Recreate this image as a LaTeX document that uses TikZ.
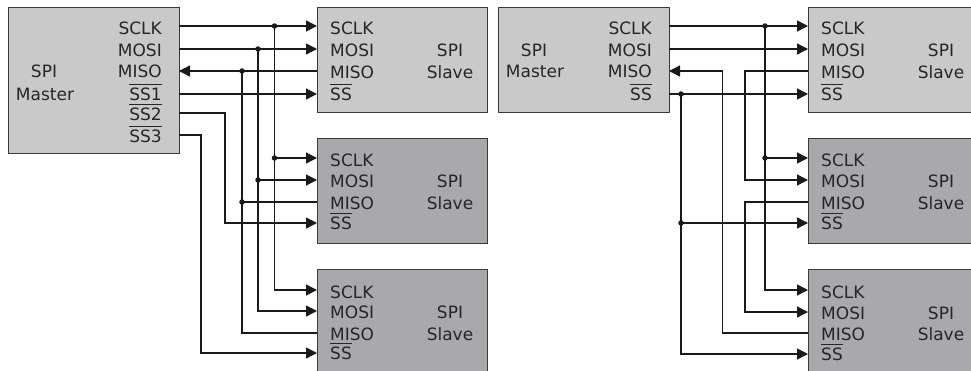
\documentclass[tikz,border=0pt]{standalone}
\usepackage{fontspec}
\setmainfont{DejaVu Sans}
\usetikzlibrary{arrows.meta}
\definecolor{boxlight}{HTML}{C9C9C9}
\definecolor{boxdark}{HTML}{A9A9AB}
\definecolor{ink}{HTML}{1A1A1A}
\definecolor{frame}{HTML}{3A3A3A}
\definecolor{txt}{HTML}{262626}
\newcommand{\ovl}[1]{\vbox{\hrule height 1.2pt\kern 2.4pt\hbox{#1}}}
\begin{document}
\begin{tikzpicture}[x=1pt,y=-1pt,
  wire/.style={draw=ink, line width=1.3pt},
  arr/.style={wire, -{Triangle[length=11pt,width=11pt]}},
  arrl/.style={wire, {Triangle[length=11pt,width=11pt]}-},
  dotj/.style={circle, fill=ink, inner sep=0pt, minimum size=5.5pt},
  lbl/.style={font=\fontsize{17}{20}\selectfont, text=txt, inner sep=0pt},
  unit/.style={draw=frame, line width=1.2pt, inner sep=0pt, anchor=north west},
  slavebox/.style={unit, minimum width=170pt, minimum height=105pt}]
\clip (0,0) rectangle (971,370);

% ---------- masters ----------
\node[unit, fill=boxlight, minimum width=171pt, minimum height=146pt] (M1) at (8,7) {};
\node[unit, fill=boxlight, minimum width=171pt, minimum height=105pt] (M2) at (498,7) {};

% ---------- slaves ----------
\foreach \nm/\x/\top/\ra/\rb/\rc/\rd/\fc in {
  A1/317/7/26/49/71/94/boxlight,
  A2/317/138/158/180/202/223/boxdark,
  A3/317/269/290/311/333/353/boxdark,
  B1/808/7/26/49/71/94/boxlight,
  B2/808/138/158/180/202/223/boxdark,
  B3/808/269/290/312/333/354/boxdark}{
  \node[slavebox, fill=\fc] (\nm) at (\x,\top) {};
  \coordinate (\nm sclk) at (\x,\ra);
  \coordinate (\nm mosi) at (\x,\rb);
  \coordinate (\nm miso) at (\x,\rc);
  \coordinate (\nm ss) at (\x,\rd);
  \node[lbl, anchor=base west] (\nm l1) at (\x+13,\ra+8) {SCLK};
  \node[lbl, anchor=base west] (\nm l2) at (\x+13,\rb+7) {MOSI};
  \node[lbl, anchor=base west] (\nm l3) at (\x+13,\rc+7) {MISO};
  \node[lbl, anchor=base west] (\nm l4) at (\x+13,\rd+6.5) {\ovl{SS}};
  \node[lbl, anchor=base] (\nm t1) at (\x+133,\rb+7) {SPI};
  \node[lbl, anchor=base] (\nm t2) at (\x+133,\rc+7) {Slave};
}

% ---------- master labels ----------
\node[lbl, anchor=base] (M1t1) at (44,77) {SPI};
\node[lbl, anchor=base] (M1t2) at (45,100) {Master};
\node[lbl, anchor=base east] (M1l1) at (162,34) {SCLK};
\node[lbl, anchor=base east] (M1l2) at (162,56) {MOSI};
\node[lbl, anchor=base east] (M1l3) at (162,77.5) {MISO};
\node[lbl, anchor=base east] (M1l4) at (162,100) {\ovl{SS1}};
\node[lbl, anchor=base east] (M1l5) at (162,120) {\ovl{SS2}};
\node[lbl, anchor=base east] (M1l6) at (162,142) {\ovl{SS3}};
\coordinate (M1sclk) at (179,26);
\coordinate (M1mosi) at (179,49);
\coordinate (M1miso) at (179,71);
\coordinate (M1ss1) at (179,94);
\coordinate (M1ss2) at (179,113);
\coordinate (M1ss3) at (179,135);

\node[lbl, anchor=base] (M2t1) at (534,56) {SPI};
\node[lbl, anchor=base] (M2t2) at (535,77) {Master};
\node[lbl, anchor=base east] (M2l1) at (652,34) {SCLK};
\node[lbl, anchor=base east] (M2l2) at (652,56) {MOSI};
\node[lbl, anchor=base east] (M2l3) at (652,77.5) {MISO};
\node[lbl, anchor=base east] (M2l4) at (652,100) {\ovl{SS}};
\coordinate (M2sclk) at (669,26);
\coordinate (M2mosi) at (669,49);
\coordinate (M2miso) at (669,71);
\coordinate (M2ss) at (669,94);

% ---------- left diagram: independent slave select ----------
\coordinate (J1sclk) at (274.5,26);
\coordinate (J1mosi) at (258,49);
\coordinate (J1miso) at (242,71);
\coordinate (J2sclk) at (J1sclk |- A2sclk);
\coordinate (J2mosi) at (J1mosi |- A2mosi);
\coordinate (J2miso) at (J1miso |- A2miso);
\coordinate (S2x) at (225,113);
\coordinate (S3x) at (201,135);

\draw[arr] (M1sclk) -- (A1sclk);
\draw[arr] (M1mosi) -- (A1mosi);
\draw[arrl] (M1miso) -- (A1miso);
\draw[arr] (M1ss1) -- (A1ss);
\draw[arr] (M1ss2) -- (S2x) |- (A2ss);
\draw[arr] (M1ss3) -- (S3x) |- (A3ss);
\draw[arr] (J1sclk) |- (A3sclk);
\draw[arr] (J1mosi) |- (A3mosi);
\draw[wire] (J1miso) |- (A3miso);
\draw[arr] (J2sclk) -- (A2sclk);
\draw[arr] (J2mosi) -- (A2mosi);
\draw[wire] (J2miso) -- (A2miso);
\foreach \j in {J1sclk,J1mosi,J1miso,J2sclk,J2mosi,J2miso}
  \node[dotj] (d\j) at (\j) {};

% ---------- right diagram: daisy chain ----------
\coordinate (K1sclk) at (765,26);
\coordinate (K2sclk) at (K1sclk |- B2sclk);
\coordinate (K1ss) at (681,94);
\coordinate (K2ss) at (K1ss |- B2ss);
\coordinate (C1) at (745,71);
\coordinate (C2) at (745,202);
\coordinate (C3) at (722.7,333);

\draw[arr] (M2sclk) -- (B1sclk);
\draw[arr] (M2mosi) -- (B1mosi);
\draw[arr] (M2ss) -- (B1ss);
\draw[arrl] (M2miso) -| (C3) -- (B3miso);
\draw[arr] (B1miso) -- (C1) |- (B2mosi);
\draw[arr] (B2miso) -- (C2) |- (B3mosi);
\draw[arr] (K1sclk) |- (B3sclk);
\draw[arr] (K2sclk) -- (B2sclk);
\draw[arr] (K1ss) |- (B3ss);
\draw[arr] (K2ss) -- (B2ss);
\foreach \j in {K1sclk,K2sclk,K1ss,K2ss}
  \node[dotj] (d\j) at (\j) {};
\end{tikzpicture}
\end{document}
